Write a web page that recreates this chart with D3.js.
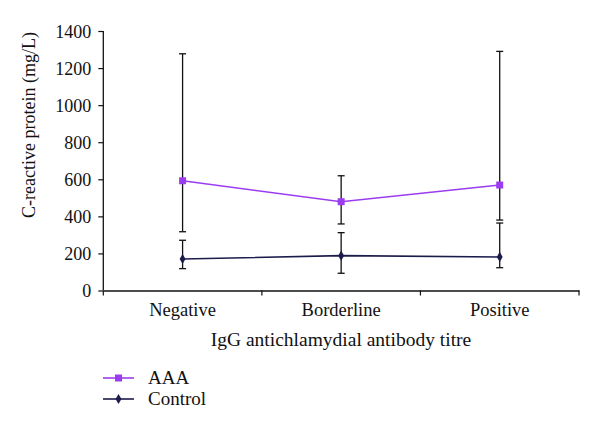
<!DOCTYPE html>
<html><head><meta charset="utf-8">
<script src="https://cdn.jsdelivr.net/npm/d3@7"></script>
<style>body{margin:0;background:#fff}</style>
</head><body><svg id="c" width="600" height="433"></svg>
<script>
const categories = ["Negative","Borderline","Positive"];
const aaaMean = [592, 479, 569];
const aaaHigh = [1277, 619, 1290];
const aaaLow = [317, 359, 380];
const ctrlMean = [170, 188, 181];
const ctrlHigh = [271, 312, 364];
const ctrlLow = [118, 93, 123];
const yTicks = [0,200,400,600,800,1000,1200,1400];

const FONT = "'Liberation Serif', 'Times New Roman', Times, 'DejaVu Serif', serif";
const svg = d3.select("#c");
const x = d3.scaleBand().domain(categories).range([103.3, 579]);
const y = d3.scaleLinear().domain([0,1400]).range([290.5, 31]);
const cx = d => x(d) + x.bandwidth()/2;

const ya = svg.append("g").attr("transform","translate(103.3,0)")
  .call(d3.axisLeft(y).tickValues(yTicks).tickSize(5).tickFormat(d3.format("d")));
ya.attr("font-family",FONT);
ya.select(".domain").attr("stroke","#111").attr("stroke-width",1.3).attr("d","M-0,31V290.5");
ya.selectAll(".tick line").attr("stroke","#111").attr("stroke-width",1.2);
ya.selectAll(".tick text").attr("font-size",18).attr("font-family",FONT).attr("fill","#111").attr("x",-12).attr("dy","0.34em");

const xa = svg.append("g").attr("transform","translate(0,290.5)")
  .call(d3.axisBottom(x).tickSize(0).tickPadding(12));
xa.attr("font-family",FONT);
xa.select(".domain").attr("stroke","#111").attr("stroke-width",1.3);
xa.selectAll(".tick text").attr("font-size",18.5).attr("font-family",FONT).attr("fill","#111");
const bounds = [103.3, ...categories.map(c => x(c)+x.bandwidth())];
xa.selectAll(".bt").data(bounds).enter().append("line")
  .attr("x1",d=>d).attr("x2",d=>d).attr("y1",0).attr("y2",5)
  .attr("stroke","#111").attr("stroke-width",1.2);

svg.append("text").attr("transform","translate(35,125) rotate(-90)")
  .attr("text-anchor","middle").attr("font-size",18).attr("font-family",FONT).attr("fill","#111").text("C-reactive protein (mg/L)");
svg.append("text").attr("x",341).attr("y",345.5).attr("text-anchor","middle")
  .attr("font-size",19.5).attr("font-family",FONT).attr("fill","#111").text("IgG antichlamydial antibody titre");

function errBars(high, low){
  const g = svg.append("g").attr("stroke","#111").attr("stroke-width",1.3);
  categories.forEach((c,i)=>{
    const X = cx(c);
    g.append("line").attr("x1",X).attr("x2",X).attr("y1",y(high[i])).attr("y2",y(low[i]));
    g.append("line").attr("x1",X-3.5).attr("x2",X+3.5).attr("y1",y(high[i])).attr("y2",y(high[i]));
    g.append("line").attr("x1",X-3.5).attr("x2",X+3.5).attr("y1",y(low[i])).attr("y2",y(low[i]));
  });
}
errBars(aaaHigh, aaaLow);
errBars(ctrlHigh, ctrlLow);

const AAA_C = "#9b3cf0", CTRL_C = "#1c1c4c";
const line = d3.line().x((d,i)=>cx(categories[i])).y(d=>y(d));
svg.append("path").datum(aaaMean).attr("d",line).attr("fill","none").attr("stroke",AAA_C).attr("stroke-width",1.6);
svg.append("path").datum(ctrlMean).attr("d",line).attr("fill","none").attr("stroke",CTRL_C).attr("stroke-width",1.6);
svg.selectAll(".sq").data(aaaMean).enter().append("rect")
  .attr("x",(d,i)=>cx(categories[i])-3.5).attr("y",d=>y(d)-3.5).attr("width",7).attr("height",7).attr("fill",AAA_C);
const dia = d3.symbol().type(d3.symbolDiamond).size(30);
svg.selectAll(".dm").data(ctrlMean).enter().append("path")
  .attr("d",dia).attr("transform",(d,i)=>`translate(${cx(categories[i])},${y(d)})`).attr("fill",CTRL_C);

const lg = svg.append("g").attr("font-family",FONT);
lg.append("line").attr("x1",103).attr("x2",134).attr("y1",378).attr("y2",378).attr("stroke",AAA_C).attr("stroke-width",1.6);
lg.append("rect").attr("x",115).attr("y",374.5).attr("width",7).attr("height",7).attr("fill",AAA_C);
lg.append("text").attr("x",148).attr("y",384).attr("font-size",19).attr("font-family",FONT).attr("fill","#111").text("AAA");
lg.append("line").attr("x1",103).attr("x2",134).attr("y1",399).attr("y2",399).attr("stroke",CTRL_C).attr("stroke-width",1.6);
lg.append("path").attr("d",dia).attr("transform","translate(118.5,399)").attr("fill",CTRL_C);
lg.append("text").attr("x",148).attr("y",405).attr("font-size",19).attr("font-family",FONT).attr("fill","#111").text("Control");
</script></body></html>
